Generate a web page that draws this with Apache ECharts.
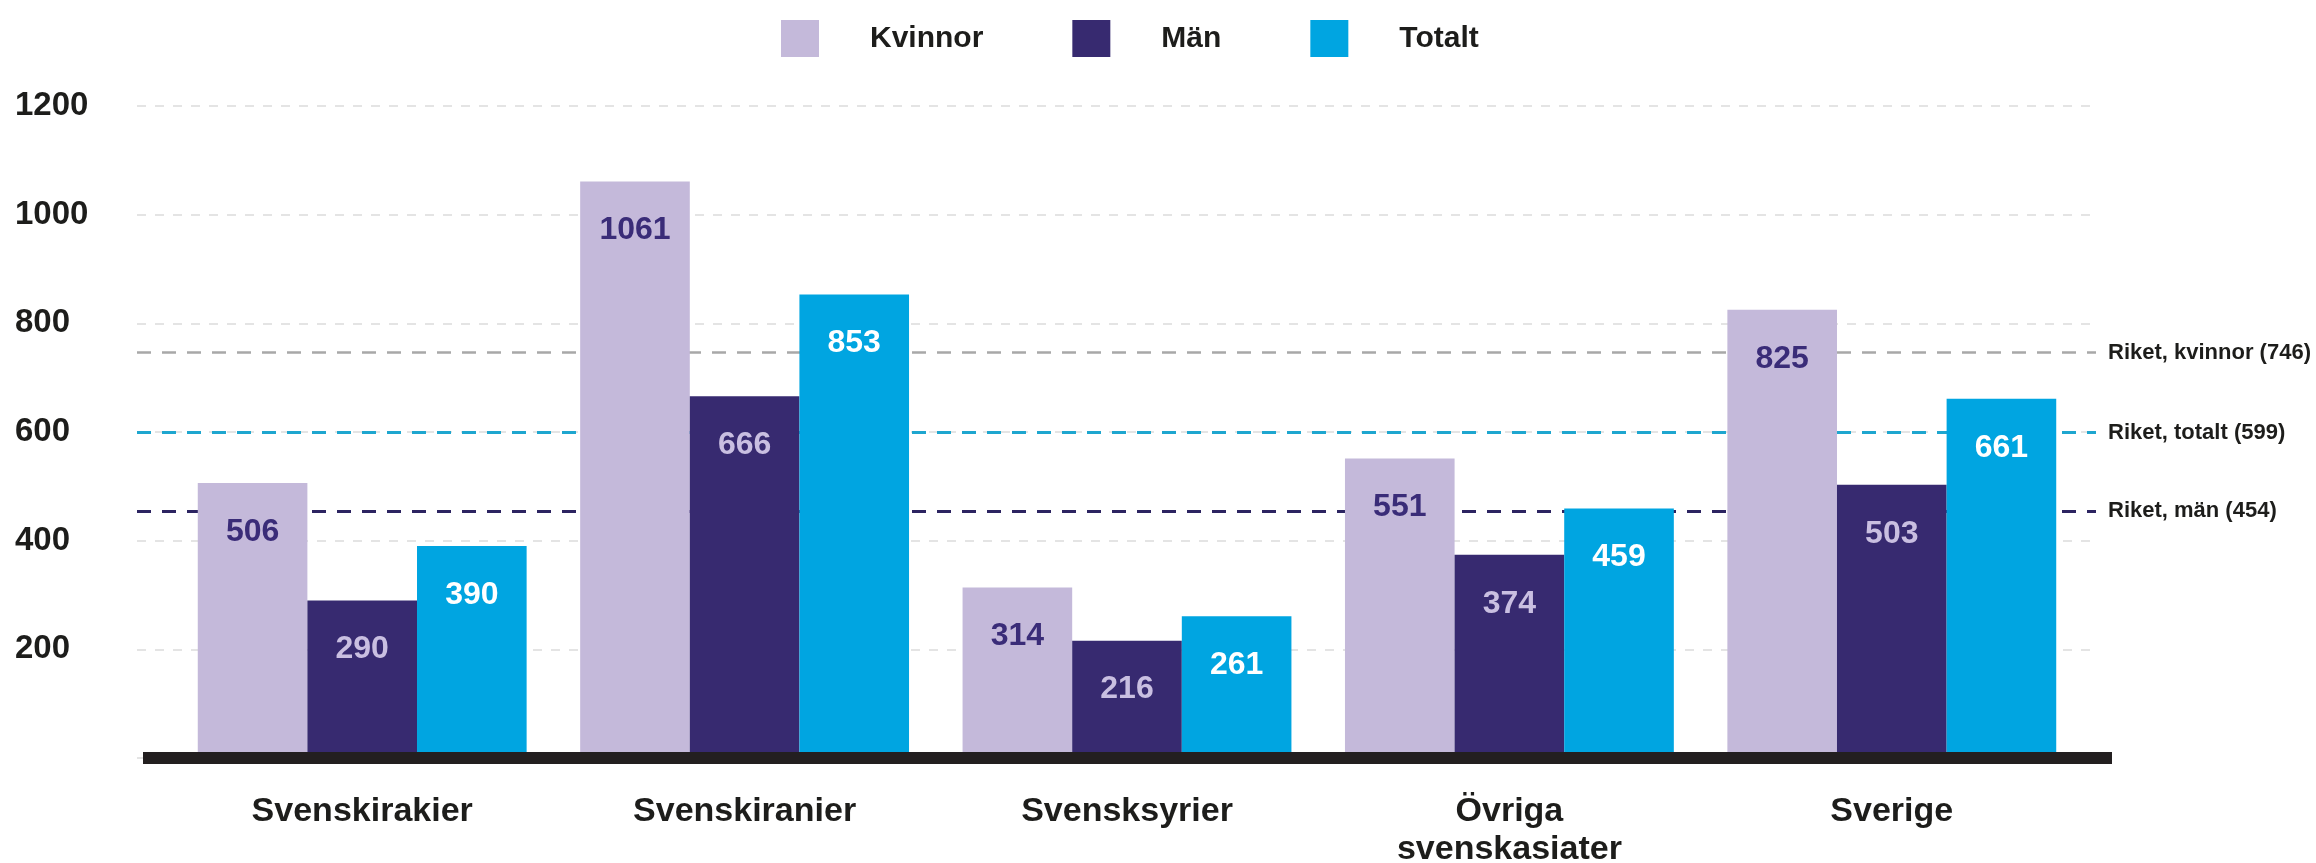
<!DOCTYPE html>
<html>
<head>
<meta charset="utf-8">
<script src="https://cdn.jsdelivr.net/npm/echarts@6/dist/echarts.min.js"></script>
<style>
  html, body { margin: 0; padding: 0; background: #fff; }
  #chart { width: 2316px; height: 863px; }
</style>
</head>
<body>
<div id="chart"></div>
<script>
// data
const categories = ['Svenskirakier', 'Svenskiranier', 'Svensksyrier', 'Övriga\nsvenskasiater', 'Sverige'];
const kvinnor = [506, 1061, 314, 551, 825];
const man = [290, 666, 216, 374, 503];
const totalt = [390, 853, 261, 459, 661];
const riketNames = ['Riket, kvinnor', 'Riket, totalt', 'Riket, män'];
const riketValues = [746, 599, 454];
const yTicks = [0, 200, 400, 600, 800, 1000, 1200];

const font = 'Liberation Sans';
const ink = '#1d1d1b';
const colors = { kvinnor: '#c4b9da', man: '#372a70', totalt: '#00a5e1' };
const riketStyle = [
  { color: '#a8a8a8', width: 2.5 },
  { color: '#1ea6cf', width: 3 },
  { color: '#2c2461', width: 3 }
];

const gridTop = 106, gridBottom = 105;

function barSeries(name, data, color, labelColor) {
  return {
    name: name,
    type: 'bar',
    xAxisIndex: 0,
    yAxisIndex: 0,
    data: data,
    z: 3,
    barGap: '0%',
    barCategoryGap: '14%',
    itemStyle: { color: color },
    label: {
      show: true,
      position: 'insideTop',
      distance: 33,
      color: labelColor,
      fontFamily: font,
      fontSize: 32,
      fontWeight: 'bold'
    }
  };
}

function grid(left, right) {
  return { left: left, right: right, top: gridTop, bottom: gridBottom, outerBoundsMode: 'none', containLabel: false };
}

const option = {
  animation: false,
  backgroundColor: '#fff',
  textStyle: { fontFamily: font },
  legend: {
    data: ['Kvinnor', 'Män', 'Totalt'],
    top: 15,
    left: 776,
    icon: 'rect',
    itemWidth: 38,
    itemHeight: 37,
    itemGap: 89,
    selectedMode: false,
    textStyle: {
      color: ink,
      fontFamily: font,
      fontSize: 30,
      fontWeight: 'bold',
      padding: [0, 0, 0, 46]
    }
  },
  grid: [
    grid(171, 233), // bars
    grid(137, 220), // gridlines, y labels and reference lines
    grid(143, 204)  // thick baseline
  ],
  xAxis: [
    {
      type: 'category',
      gridIndex: 0,
      data: categories,
      axisLine: { show: false },
      axisTick: { show: false },
      axisLabel: {
        color: ink,
        fontFamily: font,
        fontSize: 34,
        fontWeight: 'bold',
        lineHeight: 38,
        margin: 35
      }
    },
    { type: 'value', gridIndex: 1, min: 0, max: 1, show: false },
    {
      type: 'value',
      gridIndex: 2,
      min: 0,
      max: 1,
      z: 6,
      axisLine: { show: true, lineStyle: { color: '#231f20', width: 12, cap: 'butt' } },
      axisTick: { show: false },
      axisLabel: { show: false },
      splitLine: { show: false }
    }
  ],
  yAxis: [
    { type: 'value', gridIndex: 0, min: 0, max: 1200, interval: 200, show: false },
    {
      type: 'value',
      gridIndex: 1,
      min: yTicks[0],
      max: yTicks[yTicks.length - 1],
      interval: 200,
      axisLine: { show: false },
      axisTick: { show: false },
      axisLabel: {
        align: 'left',
        margin: 122,
        color: ink,
        fontFamily: font,
        fontSize: 33,
        fontWeight: 'bold',
        padding: [0, 0, 14, 0],
        formatter: v => (v === 0 ? '' : String(v))
      },
      splitLine: {
        lineStyle: { color: '#dcdcdc', width: 1.5, type: [9, 9] }
      }
    },
    { type: 'value', gridIndex: 2, min: 0, max: 1200, show: false }
  ],
  series: [
    barSeries('Kvinnor', kvinnor, colors.kvinnor, '#3a2c78'),
    barSeries('Män', man, colors.man, '#c9bfe1'),
    barSeries('Totalt', totalt, colors.totalt, '#ffffff'),
    {
      type: 'line',
      xAxisIndex: 1,
      yAxisIndex: 1,
      data: [],
      z: 1,
      silent: true,
      markLine: {
        z: 1,
        symbol: 'none',
        silent: true,
        animation: false,
        data: riketValues.map((v, i) => ({
          yAxis: v,
          lineStyle: { color: riketStyle[i].color, width: riketStyle[i].width, type: [14, 11] },
          label: { formatter: riketNames[i] + ' (' + v + ')' }
        })),
        label: {
          position: 'end',
          distance: 12,
          color: ink,
          fontFamily: font,
          fontSize: 22,
          fontWeight: 'bold'
        }
      }
    }
  ]
};

const chart = echarts.init(document.getElementById('chart'));
chart.setOption(option);
</script>
</body>
</html>
